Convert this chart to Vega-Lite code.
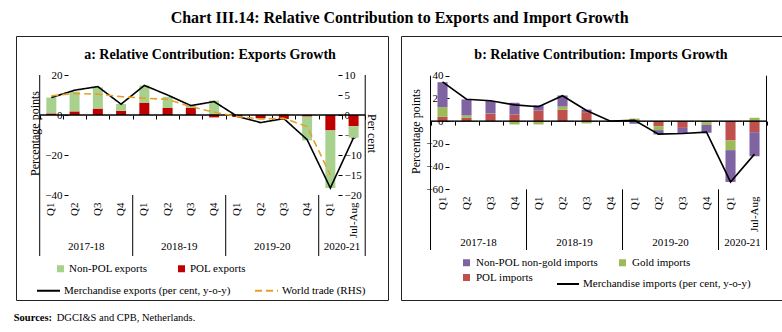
{
  "$schema": "https://vega.github.io/schema/vega-lite/v6.json",
  "padding": {"left": 13, "top": 9, "right": 0, "bottom": 0},
  "background": "white",
  "title": {"text": "Chart III.14: Relative Contribution to Exports and Import Growth", "fontSize": 16, "fontWeight": "bold", "anchor": "middle", "offset": 10},
  "config": {
    "font": "Liberation Serif",
    "view": {"stroke": "#222"},
    "axis": {"labelFont": "Liberation Serif", "labelFontSize": 11, "labelColor": "#000", "titleFont": "Liberation Serif", "titleFontSize": 12, "titleFontWeight": "normal", "titleColor": "#000", "tickColor": "#000", "domainColor": "#000", "grid": false},
    "legend": {"labelFont": "Liberation Serif", "labelFontSize": 11, "labelColor": "#000", "padding": 0, "labelLimit": 300},
    "title": {"font": "Liberation Serif", "color": "#000"}
  },
  "datasets": {
    "expBars": [
      {"cat": "2017-18 Q1", "series": "POL exports", "value": 0.8},
      {"cat": "2017-18 Q1", "series": "Non-POL exports", "value": 7.9},
      {"cat": "2017-18 Q2", "series": "POL exports", "value": 1.8},
      {"cat": "2017-18 Q2", "series": "Non-POL exports", "value": 9.9},
      {"cat": "2017-18 Q3", "series": "POL exports", "value": 3.2},
      {"cat": "2017-18 Q3", "series": "Non-POL exports", "value": 10.6},
      {"cat": "2017-18 Q4", "series": "POL exports", "value": 2.1},
      {"cat": "2017-18 Q4", "series": "Non-POL exports", "value": 3.4},
      {"cat": "2018-19 Q1", "series": "POL exports", "value": 6.0},
      {"cat": "2018-19 Q1", "series": "Non-POL exports", "value": 8.7},
      {"cat": "2018-19 Q2", "series": "POL exports", "value": 3.5},
      {"cat": "2018-19 Q2", "series": "Non-POL exports", "value": 5.6},
      {"cat": "2018-19 Q3", "series": "POL exports", "value": 3.5},
      {"cat": "2018-19 Q3", "series": "Non-POL exports", "value": 1.2},
      {"cat": "2018-19 Q4", "series": "POL exports", "value": -1.2},
      {"cat": "2018-19 Q4", "series": "Non-POL exports", "value": 7.2},
      {"cat": "2019-20 Q1", "series": "POL exports", "value": -1.0},
      {"cat": "2019-20 Q1", "series": "Non-POL exports", "value": 0.3},
      {"cat": "2019-20 Q2", "series": "POL exports", "value": -1.5},
      {"cat": "2019-20 Q2", "series": "Non-POL exports", "value": -0.6},
      {"cat": "2019-20 Q3", "series": "POL exports", "value": -2.0},
      {"cat": "2019-20 Q3", "series": "Non-POL exports", "value": 0.6},
      {"cat": "2019-20 Q4", "series": "POL exports", "value": -0.8},
      {"cat": "2019-20 Q4", "series": "Non-POL exports", "value": -11.9},
      {"cat": "2020-21 Q1", "series": "POL exports", "value": -7.7},
      {"cat": "2020-21 Q1", "series": "Non-POL exports", "value": -28.8},
      {"cat": "2020-21 Jul-Aug", "series": "POL exports", "value": -5.6},
      {"cat": "2020-21 Jul-Aug", "series": "Non-POL exports", "value": -5.7}
    ],
    "expLines": [
      {"cat": "2017-18 Q1", "series": "Merchandise exports (per cent, y-o-y)", "value": 8.7},
      {"cat": "2017-18 Q2", "series": "Merchandise exports (per cent, y-o-y)", "value": 12.4},
      {"cat": "2017-18 Q3", "series": "Merchandise exports (per cent, y-o-y)", "value": 14.2},
      {"cat": "2017-18 Q4", "series": "Merchandise exports (per cent, y-o-y)", "value": 5.4},
      {"cat": "2018-19 Q1", "series": "Merchandise exports (per cent, y-o-y)", "value": 14.8},
      {"cat": "2018-19 Q2", "series": "Merchandise exports (per cent, y-o-y)", "value": 10.0},
      {"cat": "2018-19 Q3", "series": "Merchandise exports (per cent, y-o-y)", "value": 4.7},
      {"cat": "2018-19 Q4", "series": "Merchandise exports (per cent, y-o-y)", "value": 6.7},
      {"cat": "2019-20 Q1", "series": "Merchandise exports (per cent, y-o-y)", "value": -0.7},
      {"cat": "2019-20 Q2", "series": "Merchandise exports (per cent, y-o-y)", "value": -3.8},
      {"cat": "2019-20 Q3", "series": "Merchandise exports (per cent, y-o-y)", "value": -1.8},
      {"cat": "2019-20 Q4", "series": "Merchandise exports (per cent, y-o-y)", "value": -12.3},
      {"cat": "2020-21 Q1", "series": "Merchandise exports (per cent, y-o-y)", "value": -36.5},
      {"cat": "2020-21 Jul-Aug", "series": "Merchandise exports (per cent, y-o-y)", "value": -11.3},
      {"cat": "2017-18 Q1", "series": "World trade (RHS)", "value": 4.8},
      {"cat": "2017-18 Q2", "series": "World trade (RHS)", "value": 5.4},
      {"cat": "2017-18 Q3", "series": "World trade (RHS)", "value": 5.2},
      {"cat": "2017-18 Q4", "series": "World trade (RHS)", "value": 4.6},
      {"cat": "2018-19 Q1", "series": "World trade (RHS)", "value": 4.2},
      {"cat": "2018-19 Q2", "series": "World trade (RHS)", "value": 3.9},
      {"cat": "2018-19 Q3", "series": "World trade (RHS)", "value": 2.1},
      {"cat": "2018-19 Q4", "series": "World trade (RHS)", "value": 0.7},
      {"cat": "2019-20 Q1", "series": "World trade (RHS)", "value": -0.4},
      {"cat": "2019-20 Q2", "series": "World trade (RHS)", "value": -1.0},
      {"cat": "2019-20 Q3", "series": "World trade (RHS)", "value": -0.8},
      {"cat": "2019-20 Q4", "series": "World trade (RHS)", "value": -2.9},
      {"cat": "2020-21 Q1", "series": "World trade (RHS)", "value": -15.0}
    ],
    "impBars": [
      {"cat": "2017-18 Q1", "series": "POL imports", "value": 3.8},
      {"cat": "2017-18 Q1", "series": "Gold imports", "value": 8.5},
      {"cat": "2017-18 Q1", "series": "Non-POL non-gold imports", "value": 22.0},
      {"cat": "2017-18 Q2", "series": "POL imports", "value": 2.9},
      {"cat": "2017-18 Q2", "series": "Gold imports", "value": 2.1},
      {"cat": "2017-18 Q2", "series": "Non-POL non-gold imports", "value": 14.1},
      {"cat": "2017-18 Q3", "series": "POL imports", "value": 6.5},
      {"cat": "2017-18 Q3", "series": "Gold imports", "value": 0.2},
      {"cat": "2017-18 Q3", "series": "Non-POL non-gold imports", "value": 11.0},
      {"cat": "2017-18 Q4", "series": "POL imports", "value": 5.9},
      {"cat": "2017-18 Q4", "series": "Gold imports", "value": -2.9},
      {"cat": "2017-18 Q4", "series": "Non-POL non-gold imports", "value": 10.3},
      {"cat": "2018-19 Q1", "series": "POL imports", "value": 9.4},
      {"cat": "2018-19 Q1", "series": "Gold imports", "value": -2.9},
      {"cat": "2018-19 Q1", "series": "Non-POL non-gold imports", "value": 4.7},
      {"cat": "2018-19 Q2", "series": "POL imports", "value": 10.0},
      {"cat": "2018-19 Q2", "series": "Gold imports", "value": 2.9},
      {"cat": "2018-19 Q2", "series": "Non-POL non-gold imports", "value": 9.7},
      {"cat": "2018-19 Q3", "series": "POL imports", "value": 7.9},
      {"cat": "2018-19 Q3", "series": "Gold imports", "value": -2.0},
      {"cat": "2018-19 Q3", "series": "Non-POL non-gold imports", "value": 2.3},
      {"cat": "2018-19 Q4", "series": "POL imports", "value": 0.2},
      {"cat": "2018-19 Q4", "series": "Gold imports", "value": -0.2},
      {"cat": "2018-19 Q4", "series": "Non-POL non-gold imports", "value": -0.4},
      {"cat": "2019-20 Q1", "series": "POL imports", "value": 0.0},
      {"cat": "2019-20 Q1", "series": "Gold imports", "value": 2.3},
      {"cat": "2019-20 Q1", "series": "Non-POL non-gold imports", "value": -2.3},
      {"cat": "2019-20 Q2", "series": "POL imports", "value": -4.4},
      {"cat": "2019-20 Q2", "series": "Gold imports", "value": -3.5},
      {"cat": "2019-20 Q2", "series": "Non-POL non-gold imports", "value": -3.8},
      {"cat": "2019-20 Q3", "series": "POL imports", "value": -5.9},
      {"cat": "2019-20 Q3", "series": "Gold imports", "value": 0.0},
      {"cat": "2019-20 Q3", "series": "Non-POL non-gold imports", "value": -5.3},
      {"cat": "2019-20 Q4", "series": "POL imports", "value": -0.9},
      {"cat": "2019-20 Q4", "series": "Gold imports", "value": -2.3},
      {"cat": "2019-20 Q4", "series": "Non-POL non-gold imports", "value": -7.0},
      {"cat": "2020-21 Q1", "series": "POL imports", "value": -17.0},
      {"cat": "2020-21 Q1", "series": "Gold imports", "value": -8.5},
      {"cat": "2020-21 Q1", "series": "Non-POL non-gold imports", "value": -28.0},
      {"cat": "2020-21 Jul-Aug", "series": "POL imports", "value": -9.7},
      {"cat": "2020-21 Jul-Aug", "series": "Gold imports", "value": 3.0},
      {"cat": "2020-21 Jul-Aug", "series": "Non-POL non-gold imports", "value": -21.2}
    ],
    "impLines": [
      {"cat": "2017-18 Q1", "series": "Merchandise imports (per cent, y-o-y)", "value": 34.5},
      {"cat": "2017-18 Q2", "series": "Merchandise imports (per cent, y-o-y)", "value": 19.3},
      {"cat": "2017-18 Q3", "series": "Merchandise imports (per cent, y-o-y)", "value": 17.9},
      {"cat": "2017-18 Q4", "series": "Merchandise imports (per cent, y-o-y)", "value": 14.3},
      {"cat": "2018-19 Q1", "series": "Merchandise imports (per cent, y-o-y)", "value": 12.7},
      {"cat": "2018-19 Q2", "series": "Merchandise imports (per cent, y-o-y)", "value": 22.4},
      {"cat": "2018-19 Q3", "series": "Merchandise imports (per cent, y-o-y)", "value": 9.4},
      {"cat": "2018-19 Q4", "series": "Merchandise imports (per cent, y-o-y)", "value": 0.0},
      {"cat": "2019-20 Q1", "series": "Merchandise imports (per cent, y-o-y)", "value": 0.8},
      {"cat": "2019-20 Q2", "series": "Merchandise imports (per cent, y-o-y)", "value": -11.4},
      {"cat": "2019-20 Q3", "series": "Merchandise imports (per cent, y-o-y)", "value": -10.8},
      {"cat": "2019-20 Q4", "series": "Merchandise imports (per cent, y-o-y)", "value": -9.7},
      {"cat": "2020-21 Q1", "series": "Merchandise imports (per cent, y-o-y)", "value": -53.5},
      {"cat": "2020-21 Jul-Aug", "series": "Merchandise imports (per cent, y-o-y)", "value": -29.0}
    ],
    "seps": [
      {"at": "2017-18 Q1", "kind": "start"},
      {"at": "2018-19 Q1", "kind": "year"},
      {"at": "2019-20 Q1", "kind": "year"},
      {"at": "2020-21 Q1", "kind": "year"},
      {"at": "2020-21 Jul-Aug", "kind": "end"}
    ],
    "years": [
      {"year": "2017-18", "at": "2017-18 Q2"},
      {"year": "2018-19", "at": "2018-19 Q2"},
      {"year": "2019-20", "at": "2019-20 Q2"},
      {"year": "2020-21", "at": "2020-21 Q1"}
    ]
  },
  "vconcat": [
    {
      "hconcat": [
        {
          "width": 372,
          "height": 264,
          "title": {"text": "a: Relative Contribution: Exports Growth", "offset": -26, "fontSize": 14, "fontWeight": "bold", "dx": 8},
          "resolve": {"scale": {"y": "independent"}, "axis": {"x": "independent", "y": "independent"}},
          "layer": [
            {
              "data": {"name": "expBars"},
              "transform": [{"calculate": "indexof(['POL exports','Non-POL exports'], datum.series)", "as": "rank"}],
              "mark": {"type": "bar", "width": {"band": 0.43}},
              "encoding": {
                "x": {"field": "cat", "type": "nominal", "sort": null,
                  "scale": {"domain": ["2017-18 Q1","2017-18 Q2","2017-18 Q3","2017-18 Q4","2018-19 Q1","2018-19 Q2","2018-19 Q3","2018-19 Q4","2019-20 Q1","2019-20 Q2","2019-20 Q3","2019-20 Q4","2020-21 Q1","2020-21 Jul-Aug"], "paddingInner": 0, "paddingOuter": 2.644, "align": 0.51},
                  "axis": {"orient": "bottom", "offset": -102, "domain": false, "ticks": false, "labelAngle": -90, "labelPadding": 4, "labelExpr": "split(datum.value, ' ')[1]", "title": null, "labelOverlap": false}},
                "y": {"field": "value", "type": "quantitative", "stack": "zero",
                  "scale": {"domain": [-92.5, 39.5], "nice": false, "zero": false},
                  "axis": {"orient": "left", "offset": -52, "values": [-40, -20, 0, 20], "domain": false, "tickSize": 4, "labelPadding": 2, "title": "Percentage points", "titlePadding": 3, "titleY": 97}},
                "fill": {"field": "series", "type": "nominal",
                  "scale": {"domain": ["Non-POL exports", "POL exports"], "range": ["#A9D18E", "#C00000"]},
                  "legend": {"title": null, "orient": "none", "legendX": 39, "legendY": 227, "direction": "horizontal", "symbolType": "square", "symbolSize": 49, "columnPadding": 28, "labelOffset": 3}},
                "order": {"field": "rank", "type": "quantitative"}
              }
            },
            {
              "data": {"name": "expLines"},
              "transform": [{"filter": "datum.series === 'Merchandise exports (per cent, y-o-y)'"}],
              "mark": {"type": "bar", "width": {"band": 1}, "fillOpacity": 0, "stroke": "#000", "strokeWidth": 1},
              "encoding": {
                "x": {"field": "cat", "type": "nominal", "sort": null,
                  "axis": {"orient": "bottom", "offset": -185, "domain": false, "labels": false, "ticks": true, "tickBand": "extent", "tickSize": 4, "title": null}},
                "y": {"datum": 0, "type": "quantitative", "scale": {"domain": [-92.5, 39.5], "nice": false, "zero": false}, "axis": null},
                "y2": {"datum": 0}
              }
            },
            {
              "data": {"name": "expLines"},
              "transform": [{"filter": "datum.series === 'Merchandise exports (per cent, y-o-y)'"}],
              "mark": {"type": "line", "strokeWidth": 1.6},
              "encoding": {
                "x": {"field": "cat", "type": "nominal", "sort": null, "axis": null},
                "y": {"field": "value", "type": "quantitative", "scale": {"domain": [-92.5, 39.5], "nice": false, "zero": false}, "axis": null},
                "stroke": {"field": "series", "type": "nominal",
                  "scale": {"domain": ["Merchandise exports (per cent, y-o-y)", "World trade (RHS)"], "range": ["#000000", "#E5A02B"]},
                  "legend": {"title": null, "orient": "none", "legendX": 20, "legendY": 242, "direction": "horizontal", "symbolType": "stroke", "symbolSize": 529, "symbolStrokeWidth": 2, "columnPadding": 20, "labelOffset": 3}},
                "strokeDash": {"field": "series", "type": "nominal",
                  "scale": {"domain": ["Merchandise exports (per cent, y-o-y)", "World trade (RHS)"], "range": [[1, 0], [7, 4]]},
                  "legend": {"title": null, "orient": "none", "legendX": 20, "legendY": 242, "direction": "horizontal", "symbolType": "stroke", "symbolSize": 529, "symbolStrokeWidth": 2, "columnPadding": 20, "labelOffset": 3}},
                "order": {"value": null}
              }
            },
            {
              "data": {"name": "expLines"},
              "transform": [{"filter": "datum.series === 'World trade (RHS)'"}],
              "mark": {"type": "line", "strokeWidth": 1.6},
              "encoding": {
                "x": {"field": "cat", "type": "nominal", "sort": null, "axis": null},
                "y": {"field": "value", "type": "quantitative",
                  "scale": {"domain": [-46.25, 19.75], "nice": false, "zero": false},
                  "axis": {"orient": "right", "offset": -50, "values": [-20, -15, -10, -5, 0, 5, 10], "domain": false, "tickSize": 4, "labelPadding": 2, "title": "Per cent", "titlePadding": 3, "titleY": 97}},
                "stroke": {"field": "series", "type": "nominal"},
                "strokeDash": {"field": "series", "type": "nominal"},
                "order": {"value": null}
              }
            },
            {
              "data": {"name": "seps"},
              "transform": [{"filter": "datum.kind === 'year'"}],
              "mark": {"type": "rule", "color": "#000", "strokeWidth": 1},
              "encoding": {
                "x": {"field": "at", "type": "nominal", "bandPosition": 0, "axis": null},
                "y": {"datum": -40, "type": "quantitative", "scale": {"domain": [-92.5, 39.5], "nice": false, "zero": false}, "axis": null},
                "y2": {"datum": -70.5}
              }
            },
            {
              "data": {"name": "seps"},
              "transform": [{"filter": "datum.kind === 'start'"}],
              "mark": {"type": "rule", "color": "#000", "strokeWidth": 1},
              "encoding": {
                "x": {"field": "at", "type": "nominal", "bandPosition": 0, "axis": null},
                "y": {"datum": 20, "type": "quantitative", "scale": {"domain": [-92.5, 39.5], "nice": false, "zero": false}, "axis": null},
                "y2": {"datum": -70.5}
              }
            },
            {
              "data": {"name": "seps"},
              "transform": [{"filter": "datum.kind === 'end'"}],
              "mark": {"type": "rule", "color": "#000", "strokeWidth": 1},
              "encoding": {
                "x": {"field": "at", "type": "nominal", "bandPosition": 1, "axis": null},
                "y": {"datum": 20, "type": "quantitative", "scale": {"domain": [-92.5, 39.5], "nice": false, "zero": false}, "axis": null},
                "y2": {"datum": -70.5}
              }
            },
            {
              "data": {"name": "years"},
              "mark": {"type": "text", "fontSize": 11, "color": "#000"},
              "encoding": {
                "x": {"field": "at", "type": "nominal", "bandPosition": 1, "axis": null},
                "y": {"datum": -66, "type": "quantitative", "scale": {"domain": [-92.5, 39.5], "nice": false, "zero": false}, "axis": null},
                "text": {"field": "year"}
              }
            }
          ]
        },
        {
          "width": 384,
          "height": 264,
          "title": {"text": "b: Relative Contribution: Imports Growth", "offset": -26, "fontSize": 14, "fontWeight": "bold", "dx": 8},
          "resolve": {"scale": {"y": "independent"}, "axis": {"x": "independent", "y": "independent"}},
          "layer": [
            {
              "data": {"name": "impBars"},
              "transform": [{"calculate": "indexof(['POL imports','Gold imports','Non-POL non-gold imports'], datum.series)", "as": "rank"}],
              "mark": {"type": "bar", "width": {"band": 0.42}},
              "encoding": {
                "x": {"field": "cat", "type": "nominal", "sort": null,
                  "scale": {"domain": ["2017-18 Q1","2017-18 Q2","2017-18 Q3","2017-18 Q4","2018-19 Q1","2018-19 Q2","2018-19 Q3","2018-19 Q4","2019-20 Q1","2019-20 Q2","2019-20 Q3","2019-20 Q4","2020-21 Q1","2020-21 Jul-Aug"], "paddingInner": 0, "paddingOuter": 1.7843, "align": 0.615},
                  "axis": {"orient": "bottom", "offset": -108, "domain": false, "ticks": false, "labelAngle": -90, "labelPadding": 4, "labelExpr": "split(datum.value, ' ')[1]", "title": null, "labelOverlap": false}},
                "y": {"field": "value", "type": "quantitative", "stack": "zero",
                  "scale": {"domain": [-157.4, 74.95], "nice": false, "zero": false},
                  "axis": {"orient": "left", "offset": -48, "values": [-60, -40, -20, 0, 20, 40], "domain": false, "tickSize": 4, "labelPadding": 2, "title": "Percentage points", "titlePadding": 3, "titleY": 95}},
                "fill": {"field": "series", "type": "nominal",
                  "scale": {"domain": ["Non-POL non-gold imports", "POL imports", "Gold imports"], "range": ["#8064A2", "#C0504D", "#9BBB59"]},
                  "legend": {"title": null, "orient": "none", "legendX": 60, "legendY": 221, "columns": 2, "symbolType": "square", "symbolSize": 49, "columnPadding": 18, "rowPadding": 3, "labelOffset": 4}},
                "order": {"field": "rank", "type": "quantitative"}
              }
            },
            {
              "data": {"name": "impLines"},
              "mark": {"type": "bar", "width": {"band": 1}, "fillOpacity": 0, "stroke": "#000", "strokeWidth": 1},
              "encoding": {
                "x": {"field": "cat", "type": "nominal", "sort": null,
                  "axis": {"orient": "bottom", "offset": -178.9, "domain": false, "labels": false, "ticks": true, "tickBand": "extent", "tickSize": 4, "title": null}},
                "y": {"datum": 0, "type": "quantitative", "scale": {"domain": [-157.4, 74.95], "nice": false, "zero": false}, "axis": null},
                "y2": {"datum": 0}
              }
            },
            {
              "data": {"name": "impLines"},
              "mark": {"type": "line", "strokeWidth": 1.6},
              "encoding": {
                "x": {"field": "cat", "type": "nominal", "sort": null, "axis": null},
                "y": {"field": "value", "type": "quantitative", "scale": {"domain": [-157.4, 74.95], "nice": false, "zero": false}, "axis": null},
                "stroke": {"field": "series", "type": "nominal",
                  "scale": {"domain": ["Merchandise imports (per cent, y-o-y)"], "range": ["#000000"]},
                  "legend": {"title": null, "orient": "none", "legendX": 155, "legendY": 236, "symbolType": "stroke", "symbolSize": 484, "symbolStrokeWidth": 2, "labelOffset": 3}},
                "order": {"value": null}
              }
            },
            {
              "data": {"name": "seps"},
              "transform": [{"filter": "datum.kind === 'year'"}],
              "mark": {"type": "rule", "color": "#000", "strokeWidth": 1},
              "encoding": {
                "x": {"field": "at", "type": "nominal", "bandPosition": 0, "axis": null},
                "y": {"datum": -60, "type": "quantitative", "scale": {"domain": [-157.4, 74.95], "nice": false, "zero": false}, "axis": null},
                "y2": {"datum": -113.4}
              }
            },
            {
              "data": {"name": "seps"},
              "transform": [{"filter": "datum.kind === 'start'"}],
              "mark": {"type": "rule", "color": "#000", "strokeWidth": 1},
              "encoding": {
                "x": {"field": "at", "type": "nominal", "bandPosition": 0, "axis": null},
                "y": {"datum": 40, "type": "quantitative", "scale": {"domain": [-157.4, 74.95], "nice": false, "zero": false}, "axis": null},
                "y2": {"datum": -113.4}
              }
            },
            {
              "data": {"name": "seps"},
              "transform": [{"filter": "datum.kind === 'end'"}],
              "mark": {"type": "rule", "color": "#000", "strokeWidth": 1},
              "encoding": {
                "x": {"field": "at", "type": "nominal", "bandPosition": 1, "axis": null},
                "y": {"datum": 40, "type": "quantitative", "scale": {"domain": [-157.4, 74.95], "nice": false, "zero": false}, "axis": null},
                "y2": {"datum": -113.4}
              }
            },
            {
              "data": {"name": "years"},
              "mark": {"type": "text", "fontSize": 11, "color": "#000"},
              "encoding": {
                "x": {"field": "at", "type": "nominal", "bandPosition": 1, "axis": null},
                "y": {"datum": -107.3, "type": "quantitative", "scale": {"domain": [-157.4, 74.95], "nice": false, "zero": false}, "axis": null},
                "text": {"field": "year"}
              }
            }
          ]
        }
      ],
      "spacing": 11,
      "resolve": {
        "scale": {"fill": "independent", "stroke": "independent", "strokeDash": "independent"},
        "legend": {"fill": "independent", "stroke": "independent", "strokeDash": "independent"}
      }
    },
    {
      "hconcat": [
        {
          "width": 1, "height": 1, "view": {"stroke": null},
          "data": {"values": [{}]},
          "mark": {"type": "point", "opacity": 0},
          "title": {"text": "Sources:", "fontWeight": "bold", "fontSize": 10.5, "anchor": "start", "offset": 0}
        },
        {
          "width": 1, "height": 1, "view": {"stroke": null},
          "data": {"values": [{}]},
          "mark": {"type": "point", "opacity": 0},
          "title": {"text": "DGCI&S and CPB, Netherlands.", "fontWeight": "normal", "fontSize": 10.5, "anchor": "start", "offset": 0}
        }
      ],
      "spacing": 3
    }
  ],
  "spacing": 12
}
